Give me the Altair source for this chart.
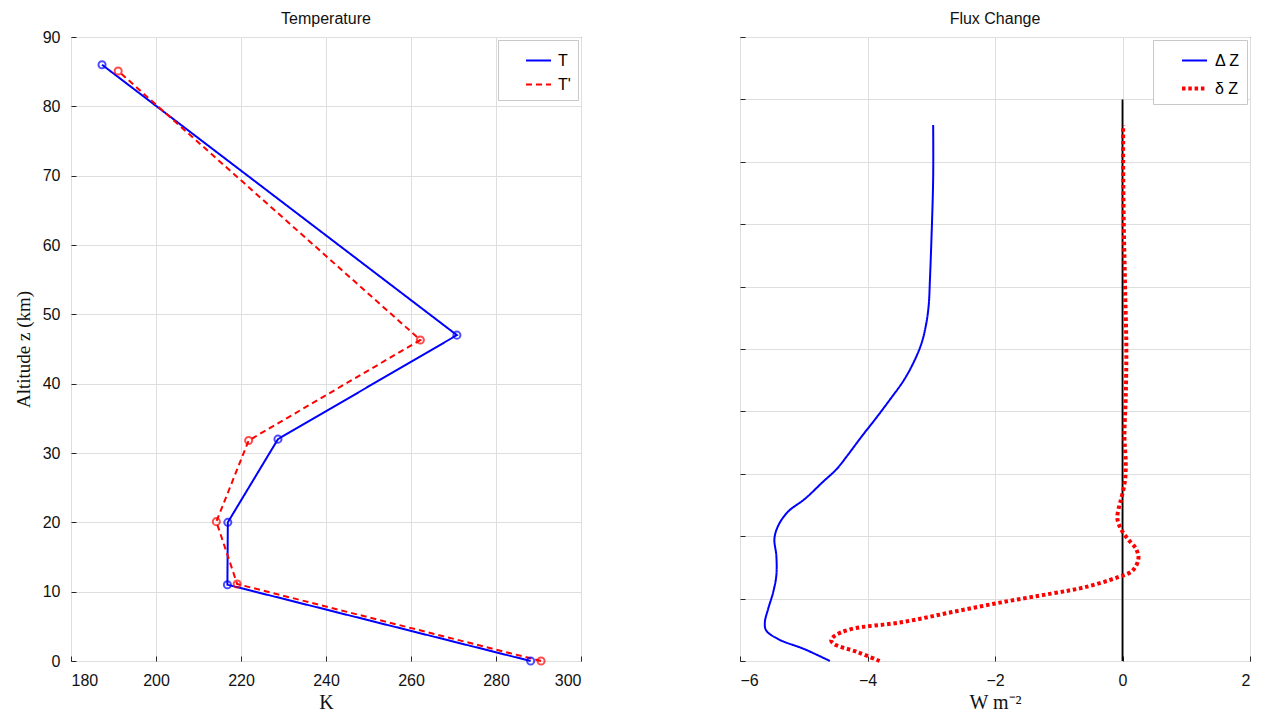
import altair as alt
import pandas as pd

# ---------------- data ----------------
# Temperature panel (K vs km)
T_z = [0, 11, 20, 32, 47, 86]
T_K = [288.15, 216.8, 216.9, 228.7, 270.8, 187.3]
Tp_z = [0, 11.1, 20.1, 31.8, 46.3, 85.1]
Tp_K = [290.6, 219.1, 214.2, 221.8, 262.2, 191.1]

K_ticks = [180, 200, 220, 240, 260, 280, 300]
z_ticks = [0, 10, 20, 30, 40, 50, 60, 70, 80, 90]

# Flux change panel (W m-2 vs level)
DZ_y = [0, 0.19, 0.35, 0.49, 0.62, 0.83, 1.10, 1.37, 1.69, 1.96, 2.17, 2.39, 2.60,
        2.87, 3.08, 3.30, 3.60, 3.90, 4.20, 4.50, 4.80, 5.10, 5.40, 5.70, 6.13, 6.67, 7.74, 8.59]
DZ_x = [-4.59, -4.99, -5.40, -5.59, -5.61, -5.56, -5.48, -5.43, -5.43, -5.46, -5.40, -5.25, -4.98,
        -4.70, -4.48, -4.31, -4.09, -3.86, -3.64, -3.43, -3.27, -3.15, -3.08, -3.04, -3.02, -3.00, -2.97, -2.97]
dZ_y = [0, 0.14, 0.27, 0.33, 0.40, 0.51, 0.62, 0.78, 0.94, 1.08, 1.18, 1.34, 1.45, 1.64, 1.80,
        1.96, 2.09, 2.28, 2.49, 2.60, 2.9, 3.2, 3.6, 4.2, 5.0, 6.0, 7.0, 8.0, 8.59]
dZ_x = [-3.81, -4.15, -4.52, -4.57, -4.52, -4.26, -3.47, -2.69, -1.90, -1.12, -0.60, -0.08, 0.16,
        0.25, 0.21, 0.08, -0.01, -0.08, -0.05, -0.02, 0.04, 0.05, 0.03, 0.05, 0.06, 0.04, 0.02, 0.01, 0.01]
zero_x = [0, 0]
zero_y = [0, 9]

F_ticks = [-6, -4, -2, 0, 2]
lev_ticks = [0, 1, 2, 3, 4, 5, 6, 7, 8, 9, 10]

T_names = ["T", "T'"]
F_names = ["\u0394 Z", "\u03b4 Z"]

BLUE = "#0000ff"
RED = "#ff0000"
AXC = "#262626"

# ---------------- tables ----------------
t_df = pd.DataFrame({
    "K": T_K + Tp_K,
    "z": T_z + Tp_z,
    "tser": [T_names[0]] * len(T_K) + [T_names[1]] * len(Tp_K),
    "idx": list(range(len(T_K))) + list(range(len(Tp_K))),
})
f_df = pd.DataFrame({
    "W": DZ_x + dZ_x,
    "lev": DZ_y + dZ_y,
    "fser": [F_names[0]] * len(DZ_x) + [F_names[1]] * len(dZ_x),
    "idx": list(range(len(DZ_x))) + list(range(len(dZ_x))),
})
zero_df = pd.DataFrame({"W": zero_x, "lev": zero_y, "idx": [0, 1]})


def legend_def(sw, rowpad):
    return alt.Legend(
        title=None, orient="top-right", offset=3,
        fillColor="white", strokeColor="#c8c8c8", padding=7,
        symbolType="stroke", symbolSize=625, symbolStrokeWidth=sw, symbolOffset=20,
        labelFontSize=16, labelFont="Liberation Sans", labelColor="black",
        rowPadding=rowpad, labelOffset=6,
    )


def panel_title(txt, dy):
    return alt.Title(txt, fontSize=16, fontWeight="normal", font="Liberation Sans",
                     color="#111111", offset=2, dy=dy)


def x_axis(vals, title):
    return alt.Axis(values=vals, title=title, offset=-5, tickSize=5, labelPadding=11,
                    titleFont="Liberation Serif", titleFontSize=20, titleFontWeight="normal",
                    titlePadding=4)


# ---------------- left panel ----------------
xT = alt.X("K:Q", scale=alt.Scale(domain=[180, 300], nice=False), axis=x_axis(K_ticks, "K"))
yT = alt.Y("z:Q", scale=alt.Scale(domain=[0, 90], nice=False),
           axis=alt.Axis(values=z_ticks, title="Altitude z (km)", offset=-5, tickSize=5,
                         labelPadding=11, titleFont="Liberation Serif", titleFontSize=19,
                         titleFontWeight="normal", titlePadding=9))

t_lines = alt.Chart(t_df).mark_line(strokeWidth=2).encode(
    x=xT, y=yT,
    color=alt.Color("tser:N", scale=alt.Scale(domain=T_names, range=[BLUE, RED]),
                    legend=legend_def(2, 2)),
    strokeDash=alt.StrokeDash("tser:N", scale=alt.Scale(domain=T_names, range=[[1, 0], [6, 4]]),
                              legend=legend_def(2, 2)),
    order="idx:Q",
)
t_pts = alt.Chart(t_df).mark_point(filled=False, size=50, strokeWidth=2).encode(
    x=xT, y=yT,
    stroke=alt.Stroke("tser:N", scale=alt.Scale(domain=T_names, range=[BLUE, RED]), legend=None),
)
left = alt.layer(t_lines, t_pts).properties(
    width=510, height=624, title=panel_title("Temperature", 0))

# ---------------- right panel ----------------
xF = alt.X("W:Q", scale=alt.Scale(domain=[-6, 2], nice=False), axis=x_axis(F_ticks, "W m\u207b\u00b2"))
yF = alt.Y("lev:Q", scale=alt.Scale(domain=[0, 10], nice=False),
           axis=alt.Axis(values=lev_ticks, labels=False, title=None, offset=-5, tickSize=5))

zero_line = alt.Chart(zero_df).mark_line(color="black", strokeWidth=1.8).encode(
    x=xF, y=yF, order="idx:Q")
f_lines = alt.Chart(f_df).mark_line(strokeCap="butt", interpolate="catmull-rom").encode(
    x=xF, y=yF,
    color=alt.Color("fser:N", scale=alt.Scale(domain=F_names, range=[BLUE, RED]),
                    legend=legend_def(3, 5)),
    strokeDash=alt.StrokeDash("fser:N", scale=alt.Scale(domain=F_names, range=[[1, 0], [3.5, 2.8]]),
                              legend=legend_def(3, 5)),
    strokeWidth=alt.StrokeWidth("fser:N", scale=alt.Scale(domain=F_names, range=[2, 4]), legend=None),
    order="idx:Q",
)
right = alt.layer(zero_line, f_lines).properties(
    width=510, height=624, title=panel_title("Flux Change", -8))

chart = alt.hconcat(left, right, spacing=157).resolve_scale(
    color="independent", strokeDash="independent", stroke="independent", strokeWidth="independent"
).resolve_legend(
    color="independent", strokeDash="independent"
).properties(
    background="white",
    padding={"left": 5, "right": 5, "top": 2, "bottom": 0},
).configure_view(
    stroke=AXC, strokeWidth=1
).configure_axis(
    grid=True, gridColor="#dedede", gridWidth=1, domain=False,
    tickColor=AXC, tickWidth=1,
    labelFont="Liberation Sans", labelFontSize=16, labelColor="#111111",
    titleColor="#111111",
)

chart.save("out.html", embed_options={"renderer": "svg", "actions": False})
